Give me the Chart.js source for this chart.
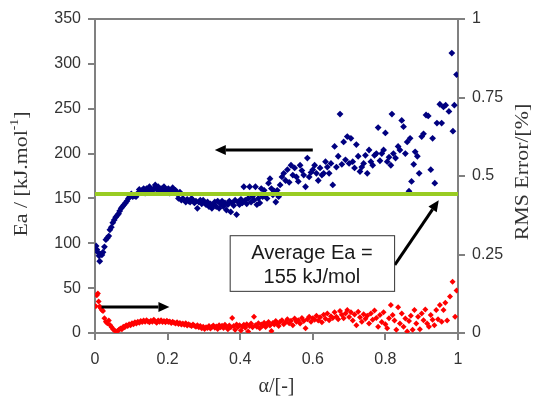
<!DOCTYPE html>
<html>
<head>
<meta charset="utf-8">
<script src="https://cdn.jsdelivr.net/npm/chart.js@4.4.0/dist/chart.umd.min.js"></script>
<style>
body{margin:0;background:#fff}
canvas{display:block}
</style>
</head>
<body>
<canvas id="myChart" width="537" height="400"></canvas>
<script>
// activation energy vs conversion
var eaAlpha = [0.003,0.005,0.008,0.011,0.013,0.016,0.019,0.022,0.026,0.030,0.034,0.038,0.041,0.045,0.049,0.053,0.057,0.061,0.065,0.068,
  0.072,0.076,0.080,0.084,0.088,0.092,0.096,0.100,0.104,0.108,0.113,0.118,0.122,0.126,0.130,0.134,0.138,0.142,0.146,0.150,
  0.154,0.158,0.162,0.166,0.170,0.174,0.178,0.182,0.186,0.190,0.194,0.198,0.202,0.206,0.210,0.214,0.218,0.222,0.226,0.230,
  0.234,0.238,0.242,0.246,0.250,0.254,0.258,0.262,0.266,0.270,0.274,0.278,0.282,0.286,0.290,0.294,0.298,0.302,0.306,0.310,
  0.314,0.318,0.322,0.326,0.330,0.334,0.338,0.342,0.346,0.350,0.354,0.358,0.362,0.366,0.370,0.374,0.378,0.382,0.386,0.390,
  0.394,0.398,0.402,0.406,0.410,0.414,0.418,0.422,0.426,0.430,0.434,0.438,0.442,0.446,0.450,0.454,0.458,0.462,0.466,0.470,
  0.474,0.478,0.482,0.486,0.490,0.494,0.498,0.502,0.506,0.510,0.515,0.520,0.525,0.530,0.535,0.540,0.545,0.550,0.555,0.560,
  0.565,0.570,0.575,0.580,0.585,0.590,0.595,0.600,0.605,0.610,0.615,0.620,0.625,0.630,0.635,0.640,0.645,0.650,0.655,0.660,
  0.665,0.670,0.675,0.680,0.685,0.690,0.695,0.700,0.705,0.710,0.715,0.720,0.725,0.730,0.735,0.740,0.745,0.750,0.755,0.760,
  0.765,0.770,0.775,0.780,0.785,0.790,0.795,0.800,0.805,0.810,0.815,0.818,0.822,0.828,0.835,0.840,0.845,0.850,0.855,0.860,
  0.865,0.868,0.872,0.878,0.882,0.888,0.893,0.900,0.905,0.912,0.918,0.925,0.930,0.936,0.942,0.950,0.955,0.960,0.966,0.975,
  0.983,0.986,0.990,0.996]
var eaValues = [97,93,90,86,80,88,87,90,96,104,106,108,115,118,123,126,129,131,133,136,
  139,141,143,145,147,150,152,155,152,153,152,156,160,157,159,161,156,161,158,163,
  160,157,161,165,160,163,157,161,159,163,160,158,161,156,159,162,157,159,155,150,
  157,148,150,148,146,149,147,146,150,148,145,147,139,146,148,144,148,145,143,146,
  141,144,139,143,146,141,147,139,144,147,141,145,137,143,147,135,145,142,148,132,
  146,143,149,145,163,148,144,150,163,146,152,148,163,143,150,145,161,152,159,154,
  150,167,172,161,154,158,146,159,152,165,174,178,170,182,168,187,176,184,174,169,
  187,181,176,163,195,174,179,182,187,178,170,184,176,178,191,185,178,189,165,208,
  185,197,244,188,213,193,219,189,217,191,184,210,197,180,185,189,198,178,204,191,
  187,198,200,229,192,200,204,223,191,196,187,244,200,195,208,204,237,230,200,213,
  158,217,169,188,202,197,178,219,222,243,242,182,217,167,234,255,234,252,254,247,
  312,225,254,288]

// RMS error of the fit, right axis
var rmsAlpha = [0.002,0.005,0.008,0.010,0.013,0.016,0.019,0.022,0.026,0.030,0.034,0.038,0.042,0.046,0.050,0.054,0.058,0.062,0.066,0.070,
  0.074,0.078,0.082,0.086,0.090,0.094,0.098,0.102,0.106,0.110,0.114,0.118,0.122,0.126,0.130,0.134,0.138,0.142,0.146,0.150,
  0.154,0.158,0.162,0.166,0.170,0.174,0.178,0.182,0.186,0.190,0.194,0.198,0.202,0.206,0.210,0.214,0.218,0.222,0.226,0.230,
  0.234,0.238,0.242,0.246,0.250,0.254,0.258,0.262,0.266,0.270,0.274,0.278,0.282,0.286,0.290,0.294,0.298,0.302,0.306,0.310,
  0.314,0.318,0.322,0.326,0.330,0.334,0.338,0.342,0.346,0.350,0.354,0.358,0.362,0.366,0.370,0.374,0.378,0.382,0.386,0.390,
  0.394,0.398,0.402,0.406,0.410,0.414,0.418,0.422,0.426,0.430,0.434,0.438,0.442,0.446,0.450,0.454,0.458,0.462,0.466,0.470,
  0.474,0.478,0.482,0.486,0.490,0.494,0.498,0.502,0.506,0.510,0.515,0.520,0.525,0.530,0.535,0.540,0.545,0.550,0.555,0.560,
  0.565,0.570,0.575,0.580,0.585,0.590,0.595,0.600,0.605,0.610,0.615,0.620,0.625,0.630,0.635,0.640,0.645,0.650,0.655,0.660,
  0.665,0.670,0.675,0.680,0.685,0.690,0.695,0.700,0.705,0.710,0.715,0.720,0.725,0.730,0.735,0.740,0.745,0.750,0.755,0.760,
  0.765,0.770,0.775,0.780,0.785,0.790,0.795,0.800,0.805,0.810,0.815,0.820,0.825,0.830,0.835,0.840,0.845,0.850,0.855,0.860,
  0.865,0.870,0.875,0.880,0.885,0.890,0.895,0.900,0.905,0.910,0.915,0.920,0.925,0.930,0.935,0.940,0.945,0.950,0.955,0.960,
  0.965,0.970,0.978,0.985,0.992,0.996]
var rmsValues = [0.085,0.120,0.126,0.100,0.084,0.079,0.073,0.070,0.047,0.036,0.031,0.040,0.025,0.018,0.012,0.008,0.004,0.006,0.010,0.014,
  0.012,0.020,0.018,0.025,0.022,0.028,0.025,0.031,0.028,0.034,0.030,0.036,0.033,0.038,0.035,0.040,0.036,0.041,0.037,0.034,
  0.039,0.036,0.042,0.037,0.033,0.040,0.036,0.041,0.035,0.038,0.034,0.039,0.035,0.037,0.032,0.036,0.033,0.030,0.034,0.029,
  0.032,0.027,0.030,0.026,0.031,0.024,0.028,0.025,0.022,0.027,0.023,0.020,0.025,0.018,0.022,0.015,0.020,0.013,0.018,0.016,
  0.022,0.014,0.019,0.024,0.017,0.021,0.013,0.025,0.018,0.023,0.016,0.026,0.020,0.012,0.024,0.018,0.048,0.022,0.010,0.027,
  0.019,0.025,0.008,0.021,0.026,0.017,0.028,0.005,0.022,0.030,0.018,0.052,0.025,0.020,0.031,0.015,0.027,0.023,0.033,0.019,
  0.029,0.035,0.024,0.006,0.032,0.027,0.038,0.030,0.022,0.036,0.041,0.028,0.034,0.044,0.031,0.039,0.025,0.046,0.036,0.041,
  0.030,0.048,0.038,0.015,0.044,0.052,0.036,0.047,0.042,0.055,0.040,0.050,0.034,0.058,0.045,0.062,0.041,0.053,0.048,0.066,
  0.052,0.044,0.070,0.058,0.047,0.062,0.073,0.051,0.066,0.040,0.059,0.025,0.068,0.050,0.036,0.060,0.045,0.055,0.030,0.062,
  0.042,0.072,0.048,0.020,0.057,0.035,0.066,0.028,0.015,0.047,0.089,0.057,0.040,0.010,0.082,0.030,0.062,0.020,0.046,0.005,
  0.038,0.055,0.010,0.073,0.030,0.052,0.012,0.062,0.041,0.075,0.030,0.020,0.057,0.042,0.025,0.073,0.044,0.089,0.036,0.073,
  0.096,0.040,0.116,0.163,0.052,0.135]

var averageEa = 155
var averageText = ['Average Ea =', averageEa + ' kJ/mol']

function toPoints(xs, ys) {
  var pts = []
  for (var i = 0; i < xs.length; i++) pts.push({x: xs[i], y: ys[i]})
  return pts
}

function arrow(ctx, x1, y1, x2, y2) {
  var ang = Math.atan2(y2 - y1, x2 - x1), head = 11, half = 5
  var bx = x2 - head * Math.cos(ang), by = y2 - head * Math.sin(ang)
  ctx.beginPath()
  ctx.moveTo(x1, y1)
  ctx.lineTo(bx, by)
  ctx.stroke()
  ctx.beginPath()
  ctx.moveTo(x2, y2)
  ctx.lineTo(bx + half * Math.sin(ang), by - half * Math.cos(ang))
  ctx.lineTo(bx - half * Math.sin(ang), by + half * Math.cos(ang))
  ctx.closePath()
  ctx.fill()
}

// frame top line, axis titles, arrows and the text box
var extras = {
  id: 'extras',
  afterDraw: function(chart) {
    var ctx = chart.ctx, a = chart.chartArea
    var x = chart.scales.x, y = chart.scales.y
    ctx.save()
    ctx.strokeStyle = '#808080'
    ctx.lineWidth = 2
    ctx.beginPath()
    ctx.moveTo(a.left - 1, a.top)
    ctx.lineTo(a.right + 1, a.top)
    ctx.stroke()

    ctx.fillStyle = '#000'
    ctx.strokeStyle = '#000'
    ctx.lineWidth = 3
    arrow(ctx, x.getPixelForValue(0.6), y.getPixelForValue(204), x.getPixelForValue(0.33), y.getPixelForValue(204))
    arrow(ctx, x.getPixelForValue(0.018), y.getPixelForValue(29), x.getPixelForValue(0.205), y.getPixelForValue(29))
    arrow(ctx, x.getPixelForValue(0.826), y.getPixelForValue(76), x.getPixelForValue(0.947), y.getPixelForValue(148))

    var bl = x.getPixelForValue(0.371), br = x.getPixelForValue(0.824)
    var bt = y.getPixelForValue(109), bb = y.getPixelForValue(47)
    ctx.fillStyle = '#fff'
    ctx.fillRect(bl, bt, br - bl, bb - bt)
    ctx.lineWidth = 1
    ctx.strokeStyle = '#333'
    ctx.strokeRect(bl + 0.5, bt + 0.5, br - bl, bb - bt)
    ctx.fillStyle = '#1a1a1a'
    ctx.font = '20px "Liberation Sans"'
    ctx.textAlign = 'center'
    ctx.textBaseline = 'alphabetic'
    ctx.fillText(averageText[0], (bl + br) / 2, bt + 24)
    ctx.fillText(averageText[1], (bl + br) / 2, bt + 48)

    // axis titles
    ctx.fillStyle = '#333'
    ctx.textBaseline = 'middle'
    ctx.save()
    ctx.translate(22, 174)
    ctx.rotate(-Math.PI / 2)
    ctx.scale(1.15, 1)
    ctx.font = '19px "Liberation Serif"'
    var p1 = 'Ea / [kJ.mol', p3 = ']'
    var w1 = ctx.measureText(p1).width, w3 = ctx.measureText(p3).width
    ctx.font = '12px "Liberation Serif"'
    var w2 = ctx.measureText('-1').width
    var sx = -(w1 + w2 + w3) / 2
    ctx.textAlign = 'left'
    ctx.font = '19px "Liberation Serif"'
    ctx.fillText(p1, sx, 0)
    ctx.fillText(p3, sx + w1 + w2, 0)
    ctx.font = '12px "Liberation Serif"'
    ctx.fillText('-1', sx + w1, -7)
    ctx.restore()

    ctx.save()
    ctx.translate(523, 172)
    ctx.rotate(-Math.PI / 2)
    ctx.scale(1.15, 1)
    ctx.textAlign = 'center'
    ctx.font = '19px "Liberation Serif"'
    ctx.fillText('RMS Error/[%]', 0, 0)
    ctx.restore()

    ctx.save()
    ctx.textAlign = 'center'
    ctx.font = '20px "Liberation Serif"'
    ctx.fillText('\u03b1/[-]', (a.left + a.right) / 2, 387)
    ctx.restore()
    ctx.restore()
  }
}

var tickFont = {family: 'Liberation Sans', size: 16}

var myChart = document.getElementById('myChart').getContext('2d')
var chart = new Chart(myChart, {
  type: 'scatter',
  data: {
    datasets: [
      {
        label: 'Average Ea',
        data: [{x: 0, y: averageEa}, {x: 1, y: averageEa}],
        showLine: true,
        borderColor: '#99cc22',
        borderWidth: 4,
        pointRadius: 0,
        yAxisID: 'y',
        order: 0
      },
      {
        label: 'Ea',
        data: toPoints(eaAlpha, eaValues),
        pointStyle: 'rectRot',
        pointRadius: 3.4,
        pointBorderWidth: 0,
        backgroundColor: '#000080',
        borderColor: '#000080',
        yAxisID: 'y',
        order: 2
      },
      {
        label: 'RMS Error',
        data: toPoints(rmsAlpha, rmsValues),
        pointStyle: 'rectRot',
        pointRadius: 3,
        pointBorderWidth: 0,
        backgroundColor: '#ff0000',
        borderColor: '#ff0000',
        yAxisID: 'y1',
        order: 1
      }
    ]
  },
  options: {
    responsive: false,
    animation: false,
    layout: {padding: {top: 19, left: 0, right: 0, bottom: 0}},
    plugins: {legend: {display: false}, tooltip: {enabled: false}},
    scales: {
      x: {
        type: 'linear', min: 0, max: 1,
        border: {color: '#808080', width: 2},
        grid: {drawOnChartArea: false, color: '#808080', tickLength: 7, lineWidth: 2},
        ticks: {stepSize: 0.2, font: tickFont, color: '#333', padding: 10,
          callback: function(v) { return parseFloat(v.toFixed(1)).toString() }},
        afterFit: function(s) { s.height = 67 }
      },
      y: {
        position: 'left', min: 0, max: 350,
        border: {color: '#808080', width: 2},
        grid: {drawOnChartArea: false, color: '#808080', tickLength: 7, lineWidth: 2},
        ticks: {stepSize: 50, font: tickFont, color: '#333', padding: 7},
        afterFit: function(s) { s.width = 95 }
      },
      y1: {
        position: 'right', min: 0, max: 1,
        border: {color: '#808080', width: 2},
        grid: {drawOnChartArea: false, color: '#808080', tickLength: 7, lineWidth: 2},
        ticks: {stepSize: 0.25, font: tickFont, color: '#333', padding: 7,
          callback: function(v) { return (Math.round(v * 100) / 100).toString() }},
        afterFit: function(s) { s.width = 79 }
      }
    }
  },
  plugins: [extras]
})
</script>
</body>
</html>
